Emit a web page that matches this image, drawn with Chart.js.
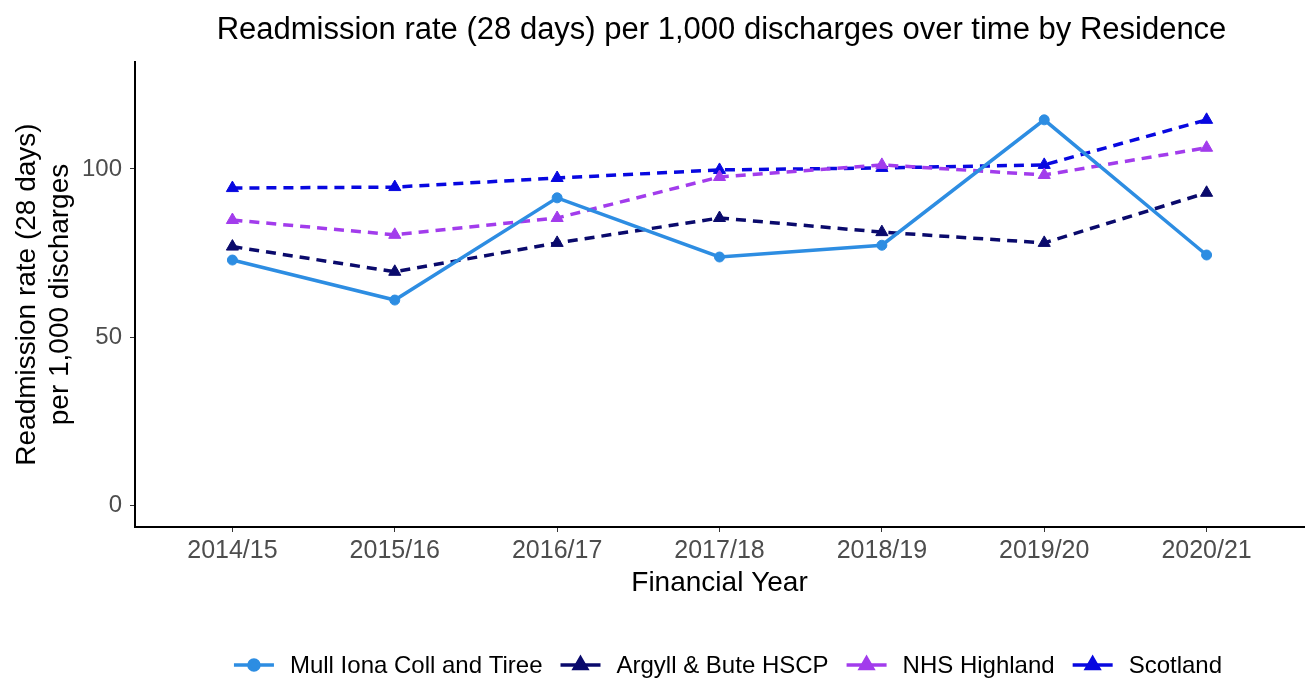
<!DOCTYPE html>
<html>
<head>
<meta charset="utf-8">
<script src="https://cdn.jsdelivr.net/npm/chart.js@4"></script>
<style>
  html, body { margin: 0; padding: 0; background: #fff; }
  #wrap { width: 1312px; height: 682px; }
</style>
</head>
<body>
<div id="wrap"><canvas id="chart" width="1312" height="682"></canvas></div>
<script>
const years = ['2014/15', '2015/16', '2016/17', '2017/18', '2018/19', '2019/20', '2020/21'];
const mull = [72.9, 61.0, 91.4, 73.8, 77.3, 114.6, 74.4];
const argyll = [76.9, 69.4, 78.0, 85.4, 81.2, 78.0, 92.9];
const highland = [84.8, 80.4, 85.4, 97.6, 101.2, 98.2, 106.3];
const scotland = [94.3, 94.6, 97.3, 99.7, 100.3, 101.2, 114.6];
const yTicks = [0, 50, 100];

const font = "'Liberation Sans', Arial, sans-serif";

const toPoints = arr => arr.map((v, i) => ({ x: i, y: v }));

const series = [
  { label: 'Mull Iona Coll and Tiree', data: mull, color: '#2d8de2', style: 'circle', dash: [] },
  { label: 'Argyll & Bute HSCP', data: argyll, color: '#0a0a6c', style: 'triangle', dash: [10, 7] },
  { label: 'NHS Highland', data: highland, color: '#a23cec', style: 'triangle', dash: [10, 7] },
  { label: 'Scotland', data: scotland, color: '#0808e0', style: 'triangle', dash: [10, 7] },
];

// legend and title drawn by hand so they match ggplot placement
const extras = {
  id: 'extras',
  afterDraw(chart) {
    const ctx = chart.ctx;
    const area = chart.chartArea;
    ctx.save();
    ctx.fillStyle = '#000';
    ctx.font = '31px ' + font;
    ctx.textAlign = 'center';
    ctx.textBaseline = 'middle';
    ctx.fillText('Readmission rate (28 days) per 1,000 discharges over time by Residence', (area.left + area.right) / 2 + 2, 30);

    ctx.font = '24px ' + font;
    const key = 40, gap = 16, space = 18;
    const widths = series.map(s => key + gap + ctx.measureText(s.label).width);
    const total = widths.reduce((a, b) => a + b, 0) + space * (series.length - 1);
    let x = 728 - total / 2;
    const y = 665;
    series.forEach((s, i) => {
      ctx.strokeStyle = s.color;
      ctx.fillStyle = s.color;
      ctx.lineWidth = 3.5;
      ctx.setLineDash([]);
      ctx.beginPath();
      ctx.moveTo(x, y);
      ctx.lineTo(x + key, y);
      ctx.stroke();
      Chart.helpers.drawPoint(ctx, { pointStyle: s.style, radius: s.style === 'circle' ? 5 : 7, rotation: 0, borderWidth: 1 }, x + key / 2, y);
      ctx.fillStyle = '#000';
      ctx.textAlign = 'left';
      ctx.fillText(s.label, x + key + gap, y + 1);
      x += widths[i] + space;
    });
    ctx.restore();
  }
};

new Chart(document.getElementById('chart'), {
  type: 'line',
  data: {
    datasets: series.map(s => ({
      label: s.label,
      data: toPoints(s.data),
      borderColor: s.color,
      backgroundColor: s.color,
      borderWidth: 3.5,
      borderDash: s.dash,
      pointStyle: s.style,
      pointRadius: s.style === 'circle' ? 5 : 7,
      pointBorderWidth: 1,
      tension: 0,
    })),
  },
  options: {
    responsive: false,
    animation: false,
    layout: { padding: { top: 62, left: 0, right: 6, bottom: 82 } },
    plugins: {
      legend: { display: false },
      title: { display: false },
      tooltip: { enabled: false },
    },
    scales: {
      x: {
        type: 'linear',
        min: -0.6,
        max: 6.6,
        afterFit: s => { s.height = 73; },
        afterBuildTicks: s => { s.ticks = years.map((_, i) => ({ value: i })); },
        ticks: {
          callback: v => years[v],
          color: '#4d4d4d',
          font: { family: font, size: 25 },
          padding: 4,
        },
        grid: { drawOnChartArea: false, drawTicks: true, tickLength: 5, color: '#333' },
        border: { color: '#000', width: 2 },
        title: {
          display: true,
          text: 'Financial Year',
          color: '#000',
          font: { family: font, size: 28 },
          padding: { top: 2, bottom: 0 },
        },
      },
      y: {
        min: -6.5,
        max: 131.8,
        afterFit: s => { s.width = 135; },
        afterBuildTicks: s => { s.ticks = yTicks.map(v => ({ value: v })); },
        ticks: {
          color: '#4d4d4d',
          font: { family: font, size: 24 },
          padding: 8,
        },
        grid: { drawOnChartArea: false, drawTicks: true, tickLength: 5, color: '#333' },
        border: { color: '#000', width: 2 },
        title: {
          display: true,
          text: ['Readmission rate (28 days)', 'per 1,000 discharges'],
          color: '#000',
          font: { family: font, size: 28 },
          padding: { top: 10, bottom: 4 },
        },
      },
    },
  },
  plugins: [extras],
});
</script>
</body>
</html>
